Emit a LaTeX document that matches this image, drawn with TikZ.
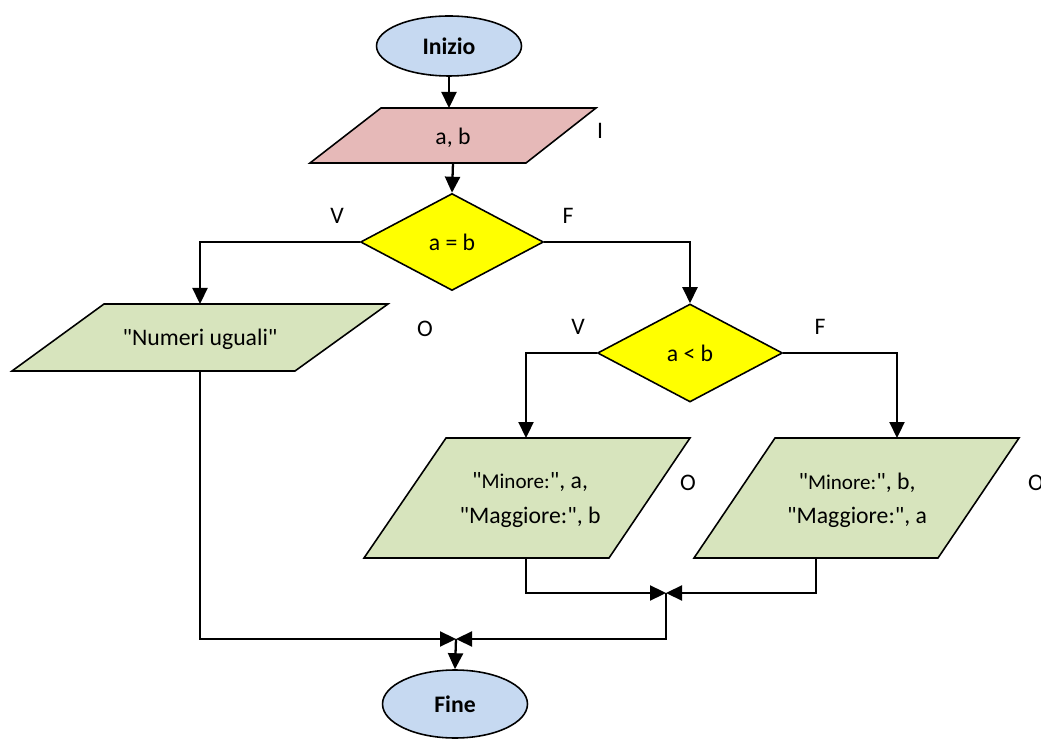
\documentclass[tikz,border=0pt]{standalone}
\usepackage{fontspec}
\setmainfont{Carlito}[Ligatures=TeXOff]
\usetikzlibrary{shapes.geometric,arrows.meta}
\definecolor{termblue}{HTML}{C6D9F1}
\definecolor{inpink}{HTML}{E6B9B8}
\definecolor{outgreen}{HTML}{D7E4BD}
\definecolor{decyellow}{HTML}{FFFF00}
\begin{document}
\begin{tikzpicture}[x=0.02cm,y=-0.02cm,
  txt/.style={font=\fontsize{13.5}{19.5}\selectfont,inner sep=0pt,align=center},
  lbl/.style={font=\fontsize{13.5}{16}\selectfont,inner sep=0pt},
  term/.style={ellipse,draw,line width=0.9pt,fill=termblue,inner sep=0pt,font=\fontsize{13.5}{16}\selectfont\bfseries},
  dec/.style={diamond,draw,line width=0.9pt,fill=decyellow,inner sep=0pt,font=\fontsize{13.5}{16}\selectfont},
  inbox/.style={draw,line width=0.9pt,fill=inpink},
  outbox/.style={draw,line width=0.9pt,fill=outgreen},
  conn/.style={line width=1.3pt},
  arr/.style={conn,-{Triangle[length=0.32cm,width=0.3cm]}}
]
\useasboundingbox (0,0) rectangle (1041,739);

% terminals
\node[term,minimum width=2.9cm,minimum height=1.2cm] (start) at (449,46) {Inizio};
\node[term,minimum width=2.9cm,minimum height=1.36cm] (end) at (455,704) {Fine};

% input
\draw[inbox] (381,108) -- (596,108) -- (526,163) -- (310,163) -- cycle;
\node[txt] (ab) at (453,138) {a, b};
\coordinate (abtop) at (449,108);
\coordinate (abbot) at (453,163);
\node[lbl] (lI) at (600,131) {I};

% decisions
\node[dec,minimum width=3.66cm,minimum height=1.94cm] (d1) at (452,242) {a = b};
\node[lbl] (v1) at (337,216) {V};
\node[lbl] (f1) at (568,216) {F};
\node[dec,minimum width=3.7cm,minimum height=1.96cm] (d2) at (690,353) {a < b};
\node[lbl] (v2) at (578,327) {V};
\node[lbl] (f2) at (820,327) {F};

% outputs
\draw[outbox] (104,304) -- (388,304) -- (295,371) -- (12,371) -- cycle;
\node[txt] (nu) at (200,339) {"Numeri uguali"};
\coordinate (nutop) at (200,304);
\coordinate (nubot) at (200,371);
\node[lbl] (o1) at (425,329) {O};

\draw[outbox] (446,438) -- (690,438) -- (609,558) -- (364,558) -- cycle;
\node[txt] (ma) at (530,500) {"{\fontsize{12}{19.5}\selectfont Minore:}", a,\\"Maggiore:", b};
\coordinate (matop) at (526,438);
\coordinate (mabot) at (526,558);
\node[lbl] (o2) at (688,483) {O};

\draw[outbox] (775,438) -- (1019,438) -- (938,558) -- (694,558) -- cycle;
\node[txt] (mb) at (857,500) {"{\fontsize{12}{19.5}\selectfont Minore:}", b,\\"Maggiore:", a};
\coordinate (mbtop) at (897,438);
\coordinate (mbbot) at (816,558);
\node[lbl] (o3) at (1036,483) {O};

% junctions
\coordinate (j1) at (666,593);
\coordinate (j2) at (456,639);

% connectors
\draw[arr] (start.south) -- (abtop);
\draw[arr] (abbot) -- (d1.north);
\draw[arr] (d1.west) -| (nutop);
\draw[arr] (d1.east) -| (d2.north);
\draw[arr] (d2.west) -| (matop);
\draw[arr] (d2.east) -| (mbtop);
\draw[arr] (mabot) |- (j1);
\draw[arr] (mbbot) |- (j1);
\draw[arr] (j1) |- (j2);
\draw[arr] (nubot) |- (j2);
\draw[arr] (j2) -- (end.north);
\end{tikzpicture}
\end{document}
